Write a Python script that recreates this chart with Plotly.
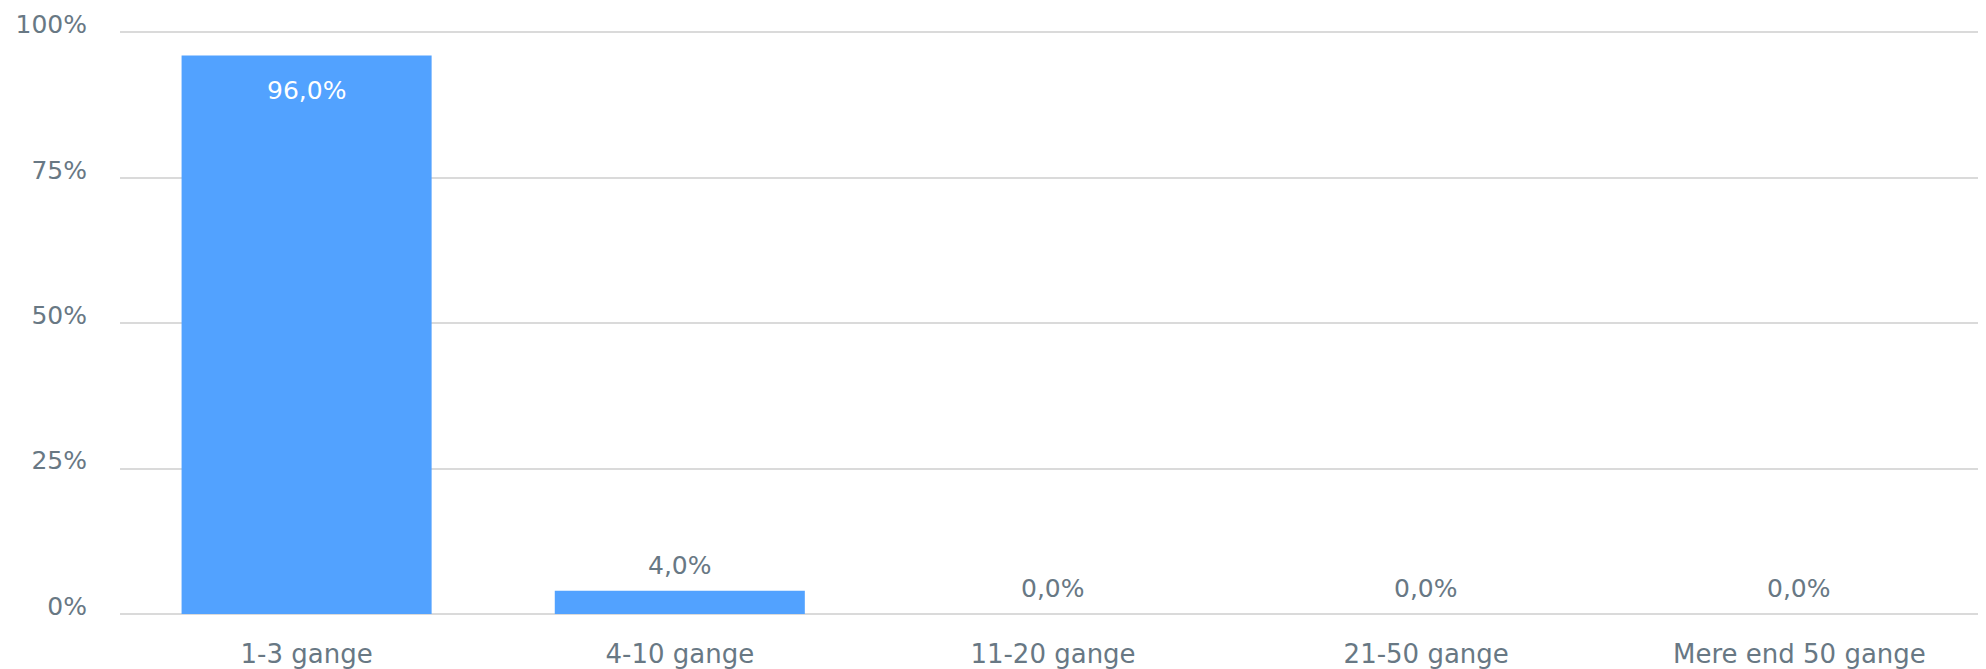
import plotly.graph_objects as go

# data
categories = ["1-3 gange", "4-10 gange", "11-20 gange", "21-50 gange", "Mere end 50 gange"]
percent = [96.0, 4.0, 0.0, 0.0, 0.0]
y_ticks = [0, 25, 50, 75, 100]

BAR_COLOR = "rgb(82,162,255)"
TEXT_COLOR = "rgb(104,120,132)"
GRID_COLOR = "rgb(218,218,218)"
FONT = "DejaVu Sans"

# the html body has an 8px margin, so the figure is shrunk by that much
PAGE_PAD = 8


def fmt_pct(v):
    # danish style decimal comma
    return "{:.1f}%".format(v).replace(".", ",")


fig = go.Figure()
fig.add_trace(go.Bar(
    x=categories,
    y=percent,
    marker=dict(color=BAR_COLOR, line=dict(width=0)),
    showlegend=False,
    hoverinfo="skip",
))

# value labels: inside (white) for the tall bar, above for the others
for cat, val in zip(categories, percent):
    inside = val > 50
    fig.add_annotation(
        x=cat, y=val,
        text=fmt_pct(val),
        showarrow=False,
        yanchor="top" if inside else "bottom",
        yshift=-18 if inside else 9,
        font=dict(family=FONT, size=25, color="white" if inside else TEXT_COLOR),
    )

fig.update_layout(
    width=1986 - PAGE_PAD,
    height=669 - PAGE_PAD,
    margin=dict(l=120 - PAGE_PAD, r=0, t=30 - PAGE_PAD, b=55),
    paper_bgcolor="white",
    plot_bgcolor="white",
    bargap=0.33,
    font=dict(family=FONT, size=24, color=TEXT_COLOR),
)
fig.update_xaxes(
    showgrid=False,
    showline=False,
    ticks="",
    automargin=False,
    ticklabelstandoff=22,
    tickfont=dict(family=FONT, size=26, color=TEXT_COLOR),
)
fig.update_yaxes(
    range=[0, 100.4],
    tickvals=y_ticks,
    ticktext=[str(t) + "%" for t in y_ticks],
    showgrid=True,
    gridcolor=GRID_COLOR,
    gridwidth=2,
    zeroline=True,
    zerolinecolor=GRID_COLOR,
    zerolinewidth=2,
    showline=False,
    ticks="",
    automargin=False,
    ticklabelstandoff=32,
    ticklabelshift=-8,
    tickfont=dict(family=FONT, size=25, color=TEXT_COLOR),
)

fig.write_html("out.html")
